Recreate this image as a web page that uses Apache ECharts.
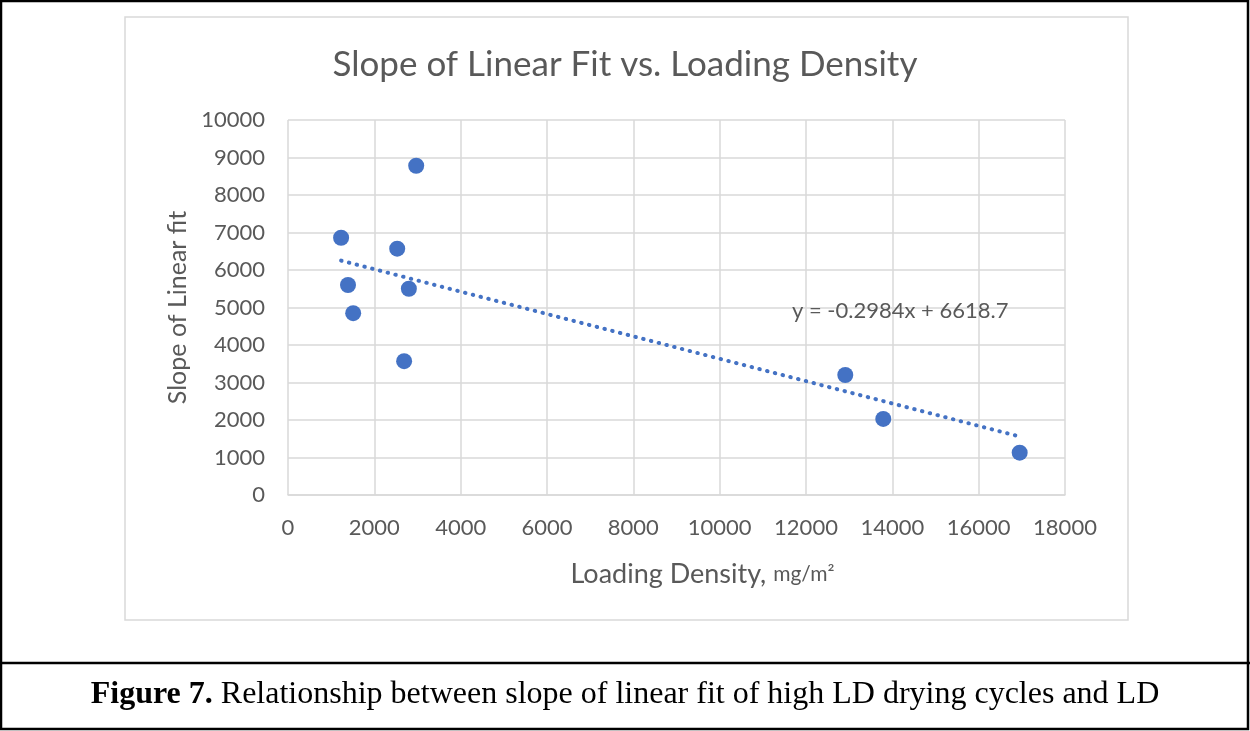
<!DOCTYPE html>
<html>
<head>
<meta charset="utf-8">
<script src="https://cdn.jsdelivr.net/npm/echarts@6/dist/echarts.min.js"></script>
<style>
  html, body { margin: 0; padding: 0; background: #fff; }
  #chart { width: 1250px; height: 731px; }
</style>
</head>
<body>
<div id="chart"></div>
<script>
  // loading density (mg/m2) and slope of linear fit
  var loadingDensity = [1230, 1390, 1510, 2530, 2690, 2800, 2970, 12910, 13790, 16950];
  var slopeValues = [6860, 5600, 4850, 6570, 3570, 5500, 8780, 3200, 2030, 1130];
  // dotted trend line ends (y = -0.2984x + 6618.7)
  var trendX = [1230, 16950];
  var trendY = [6250, 1560];
  var xTicks = { min: 0, max: 18000, step: 2000 };
  var yTicks = { min: 0, max: 10000, step: 1000 };

  var chart = echarts.init(document.getElementById('chart'));
  var gridColor = '#d9d9d9';
  var textColor = '#595959';
  var font = 'Lato';

  chart.setOption({
    backgroundColor: '#fff',
    textStyle: { fontFamily: font },
    title: {
      text: 'Slope of Linear Fit vs. Loading Density',
      left: 'center',
      top: 42,
      textStyle: { fontFamily: font, fontWeight: 'normal', fontSize: 35, color: textColor }
    },
    grid: { left: 288, top: 120, right: 185, bottom: 236 },
    xAxis: {
      type: 'value',
      min: xTicks.min, max: xTicks.max, interval: xTicks.step,
      name: '{a|Loading Density, }{b|mg/m²}',
      nameLocation: 'middle',
      nameGap: 66,
      nameTextStyle: {
        padding: [0, 0, 0, 52],
        rich: {
          a: { fontFamily: font, fontSize: 27, color: textColor },
          b: { fontFamily: font, fontSize: 21, color: textColor }
        }
      },
      axisLine: { show: true, lineStyle: { color: gridColor, width: 1.5 } },
      axisTick: { show: false },
      axisLabel: { color: textColor, fontSize: 22, margin: 22, formatter: function (v) { return String(v); } },
      splitLine: { show: true, lineStyle: { color: gridColor, width: 1.5 } }
    },
    yAxis: {
      type: 'value',
      min: yTicks.min, max: yTicks.max, interval: yTicks.step,
      name: 'Slope of Linear fit',
      nameLocation: 'middle',
      nameGap: 96,
      nameTextStyle: { fontFamily: font, fontSize: 25, color: textColor },
      axisLine: { show: false },
      axisTick: { show: false },
      axisLabel: { color: textColor, fontSize: 22, margin: 23, formatter: function (v) { return String(v); } },
      splitLine: { show: true, lineStyle: { color: gridColor, width: 1.5 } }
    },
    series: [
      {
        type: 'line',
        data: trendX.map(function (x, i) { return [x, trendY[i]]; }),
        symbol: 'none',
        silent: true,
        lineStyle: { color: '#4472c4', width: 4, type: [0.5, 7.5], cap: 'round' },
        z: 2
      },
      {
        type: 'scatter',
        data: loadingDensity.map(function (x, i) { return [x, slopeValues[i]]; }),
        symbolSize: 16,
        itemStyle: { color: '#4472c4', opacity: 1 },
        z: 3
      }
    ],
    graphic: [
      // outer frame and caption divider
      { type: 'rect', shape: { x: 1, y: 1, width: 1247, height: 728 }, style: { fill: null, stroke: '#000', lineWidth: 2.5 } },
      { type: 'line', shape: { x1: 0, y1: 663, x2: 1250, y2: 663 }, style: { stroke: '#000', lineWidth: 2.5 } },
      // chart area box
      { type: 'rect', shape: { x: 125, y: 17, width: 1003, height: 603 }, style: { fill: null, stroke: gridColor, lineWidth: 1.5 } },
      // trend line equation
      {
        type: 'text', left: 792, top: 300, z: 10,
        style: { text: 'y = -0.2984x + 6618.7', fontFamily: font, fontSize: 22, fill: textColor }
      },
      // caption
      {
        type: 'text', left: 'center', top: 679,
        style: {
          text: '{b|Figure 7.}{n| Relationship between slope of linear fit of high LD drying cycles and LD}',
          rich: {
            b: { fontFamily: 'Liberation Serif', fontWeight: 'bold', fontSize: 32, fill: '#000' },
            n: { fontFamily: 'Liberation Serif', fontSize: 32, fill: '#000' }
          }
        }
      }
    ]
  });
</script>
</body>
</html>
